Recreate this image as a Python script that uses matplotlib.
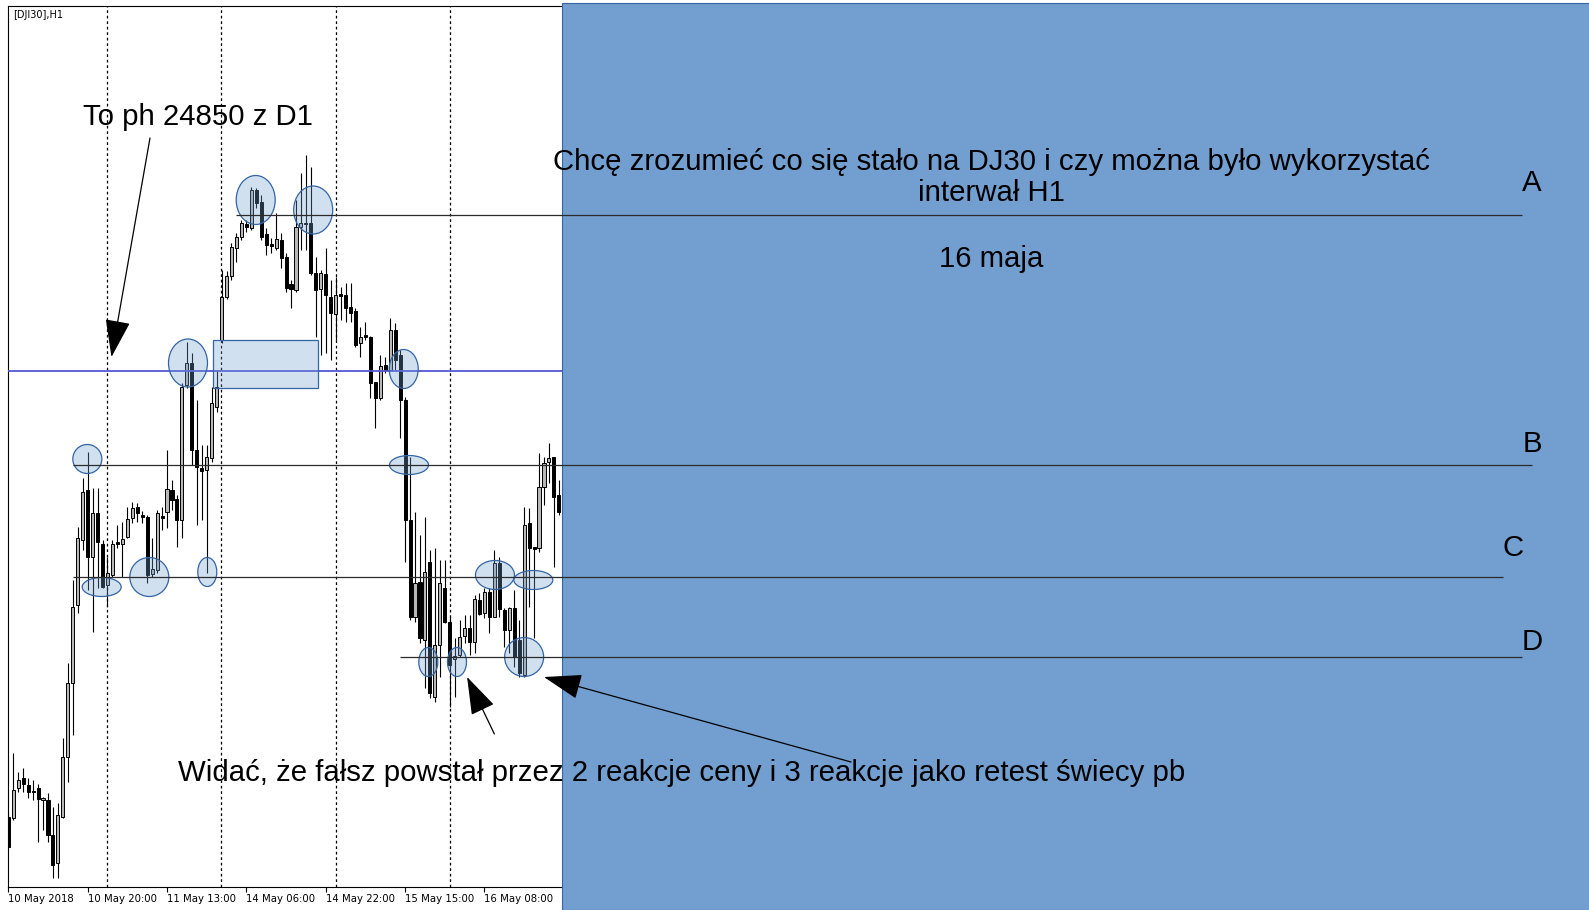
import numpy as np
import matplotlib
matplotlib.use("Agg")
import matplotlib.pyplot as plt
from matplotlib.patches import Ellipse, Rectangle

# DJI30 H1 candles, 10-16 May 2018
opens = [
    24404, 24403, 24433, 24443, 24436, 24430, 24433, 24421, 24421, 24386,
    24358, 24404, 24464, 24538, 24616, 24681, 24731, 24664, 24708, 24677,
    24636, 24646, 24679, 24677, 24684, 24703, 24714, 24706, 24704, 24647,
    24651, 24705, 24709, 24731, 24722, 24701, 24836, 24858, 24771, 24753,
    24751, 24763, 24814, 24881, 24924, 24945, 24973, 24984, 24997, 24993,
    25031, 25019, 24987, 24977, 24973, 24981, 24964, 24937, 24931, 24994,
    24998, 24998, 24948, 24932, 24947, 24924, 24907, 24927, 24926, 24914,
    24910, 24878, 24886, 24884, 24839, 24823, 24856, 24851, 24891, 24866,
    24821, 24701, 24604, 24639, 24581, 24659, 24524, 24576, 24633, 24599,
    24562, 24566, 24585, 24593, 24579, 24621, 24608, 24629, 24604, 24658,
    24611, 24591, 24613, 24581, 24546, 24698, 24674, 24673, 24734, 24759,
    24764, 24726]
highs = [
    24409, 24468, 24449, 24453, 24443, 24441, 24437, 24424, 24428, 24414,
    24418, 24483, 24558, 24641, 24694, 24743, 24769, 24733, 24733, 24681,
    24664, 24681, 24696, 24699, 24714, 24719, 24718, 24710, 24706, 24683,
    24711, 24714, 24771, 24741, 24726, 24838, 24879, 24868, 24821, 24776,
    24776, 24834, 24851, 24951, 24950, 24978, 24988, 25001, 25001, 25034,
    25033, 25026, 24993, 24983, 25008, 24988, 24968, 24941, 25021, 25048,
    25066, 25054, 24964, 24951, 24973, 24941, 24944, 24934, 24938, 24938,
    24913, 24894, 24899, 24885, 24839, 24866, 24864, 24903, 24898, 24871,
    24824, 24764, 24709, 24686, 24704, 24671, 24673, 24661, 24661, 24604,
    24583, 24601, 24606, 24606, 24626, 24628, 24633, 24633, 24671, 24664,
    24613, 24614, 24631, 24601, 24714, 24713, 24674, 24768, 24764, 24778,
    24764, 24741]
lows = [
    24371, 24401, 24429, 24429, 24423, 24421, 24379, 24391, 24379, 24343,
    24343, 24403, 24439, 24486, 24608, 24671, 24631, 24589, 24633, 24633,
    24614, 24644, 24673, 24644, 24683, 24698, 24699, 24698, 24638, 24644,
    24648, 24691, 24693, 24711, 24674, 24683, 24833, 24756, 24696, 24701,
    24648, 24759, 24809, 24878, 24922, 24941, 24959, 24981, 24989, 24991,
    25013, 24981, 24966, 24968, 24971, 24953, 24929, 24913, 24929, 24971,
    24971, 24946, 24884, 24866, 24868, 24861, 24881, 24901, 24899, 24899,
    24874, 24864, 24881, 24823, 24793, 24821, 24848, 24851, 24851, 24783,
    24659, 24601, 24599, 24578, 24533, 24523, 24519, 24544, 24598, 24514,
    24524, 24564, 24578, 24566, 24568, 24606, 24603, 24588, 24604, 24604,
    24574, 24568, 24554, 24544, 24544, 24614, 24583, 24669, 24716, 24738,
    24654, 24706]
closes = [
    24374, 24431, 24441, 24437, 24429, 24429, 24422, 24423, 24386, 24356,
    24406, 24464, 24538, 24614, 24683, 24729, 24664, 24708, 24679, 24634,
    24648, 24677, 24677, 24682, 24702, 24713, 24708, 24704, 24646, 24652,
    24708, 24703, 24732, 24721, 24701, 24834, 24858, 24771, 24754, 24750,
    24764, 24818, 24834, 24924, 24945, 24974, 24984, 24998, 24994, 25031,
    25018, 24984, 24976, 24975, 24982, 24963, 24933, 24932, 24994, 24998,
    24997, 24948, 24931, 24948, 24926, 24908, 24926, 24925, 24913, 24908,
    24876, 24884, 24884, 24838, 24823, 24855, 24851, 24891, 24861, 24821,
    24701, 24604, 24638, 24583, 24649, 24528, 24576, 24638, 24599, 24556,
    24565, 24584, 24593, 24579, 24622, 24607, 24629, 24604, 24658, 24612,
    24591, 24613, 24564, 24548, 24696, 24673, 24672, 24734, 24758, 24763,
    24724, 24709]

tick_bars = [0, 16, 32, 48, 64, 80, 96]
tick_labels = ["10 May 2018", "10 May 20:00", "11 May 13:00", "14 May 06:00",
               "14 May 22:00", "15 May 15:00", "16 May 08:00"]
grid_bars = [19.9, 42.9, 66.1, 89.1]

ph_price = 24850
level_names = ["A", "B", "C", "D"]
level_prices = [25006, 24756, 24644, 24564]

W, H = 1589, 910
BAR_PX = 4.96
FONT = "Liberation Sans"
FS = 21.2


def px(x, y):
    # screen pixel -> figure fraction
    return x / W, 1 - y / H


def draw_candles(ax):
    o = np.array(opens)
    h = np.array(highs)
    l = np.array(lows)
    c = np.array(closes)
    x = np.arange(len(o))
    up = c >= o
    ax.vlines(x, l, h, color="black", lw=0.8, zorder=2)
    ax.bar(x[up], np.maximum(c[up] - o[up], 1), bottom=o[up], width=0.62,
           facecolor="#b8b8b8", edgecolor="black", lw=0.7, zorder=3)
    ax.bar(x[~up], np.maximum(o[~up] - c[~up], 1), bottom=c[~up], width=0.62,
           facecolor="black", edgecolor="black", lw=0.7, zorder=3)


def main():
    fig = plt.figure(figsize=(W / 100, H / 100), dpi=100)
    ax = fig.add_axes([7.8 / W, 1 - 887 / H, (W - 7.8) / W, (887 - 5.7) / H])
    x_right = -0.1 + (W - 7.8) / BAR_PX
    ax.set_xlim(-0.1, x_right)
    ax.set_ylim(24334, 24334 + 881.3)
    n = len(opens)

    ax.vlines(grid_bars, 24334, 24334 + 881.3, colors="black", lw=0.9,
              linestyles=(0, (2.2, 2.2)), zorder=1)
    draw_candles(ax)
    ax.hlines(ph_price, -0.1, n - 0.3, color="#5656d8", lw=1.3, zorder=4)

    # marked reactions
    ellipses = [(15.93, 24762, 5.85, 29), (18.83, 24634, 7.86, 19),
                (28.43, 24644, 7.86, 39), (40.12, 24649, 3.83, 29),
                (36.23, 24858, 7.86, 48), (49.88, 25021, 7.86, 49),
                (61.47, 25011, 7.86, 48), (79.72, 24852, 5.85, 39),
                (80.79, 24756, 7.86, 19), (84.68, 24559, 3.83, 29),
                (90.46, 24559, 3.83, 29), (98.12, 24646, 7.86, 29),
                (105.85, 24641, 7.86, 19), (104.0, 24564, 7.86, 39)]
    for bx, by, bw, bh in ellipses:
        ax.add_patch(Ellipse((bx, by), bw, bh, facecolor=(0.447, 0.624, 0.812, 0.32),
                             edgecolor="#3465a4", lw=0.9, zorder=4.5))
    ax.add_patch(Rectangle((41.21, 24833), 21.3, 48,
                           facecolor=(0.447, 0.624, 0.812, 0.32),
                           edgecolor="#3465a4", lw=0.9, zorder=4.5))

    # blue panel over the right part of the screenshot
    ax.axvspan(n - 0.27, x_right, ymin=-23 / 881.3, ymax=1 + 2.7 / 881.3,
               facecolor="#729fcf", edgecolor="#3465a4", lw=0.8,
               zorder=5, clip_on=False)

    starts = [45.9, 13.05, 13.05, 78.97]
    ends = [305.2, 307.2, 301.4, 305.2]
    for price, x0, x1 in zip(level_prices, starts, ends):
        ax.hlines(price, x0, x1, color="#2b2b2b", lw=0.9, zorder=6)

    letter_pos = [(1532, 183), (1532, 444), (1513, 548), (1532, 642)]
    for name, (lx, ly) in zip(level_names, letter_pos):
        fig.text(*px(lx, ly), name, ha="center", va="center",
                 fontsize=FS, family=FONT, zorder=8)

    arrow = dict(arrowstyle="-|>,head_length=2.4,head_width=0.8",
                 mutation_scale=10, color="black", lw=0.9,
                 shrinkA=0, shrinkB=0)
    for tip, tail in [((20.8, 24864), (28.57, 25083)),
                      ((92.5, 24544), (98.0, 24487)),
                      ((108.0, 24544), (169.9, 24459))]:
        ax.annotate("", xy=tip, xytext=tail, arrowprops=arrow,
                    zorder=7, annotation_clip=False)

    fig.text(*px(83, 117), "To ph 24850 z D1", ha="left", va="center",
             fontsize=FS, family=FONT)
    fig.text(*px(991, 161.5),
             "Chcę zrozumieć co się stało na DJ30 i czy można było wykorzystać",
             ha="center", va="center", fontsize=FS, family=FONT)
    fig.text(*px(991, 193), "interwał H1", ha="center", va="center",
             fontsize=FS, family=FONT)
    fig.text(*px(991, 259), "16 maja", ha="center", va="center",
             fontsize=FS, family=FONT)
    fig.text(*px(178, 773),
             "Widać, że fałsz powstał przez 2 reakcje ceny i 3 reakcje jako retest świecy pb",
             ha="left", va="center", fontsize=FS, family=FONT)
    fig.text(*px(12.7, 15), "[DJI30],H1", ha="left", va="center", fontsize=7)

    ax.set_xticks(tick_bars)
    ax.set_xticklabels(tick_labels, ha="left", fontsize=7.3)
    ax.tick_params(axis="x", length=3.5, width=0.8, pad=1.5)
    ax.set_yticks([])
    ax.spines["right"].set_visible(False)
    for s in ["left", "top", "bottom"]:
        ax.spines[s].set_linewidth(0.8)

    fig.savefig("out.png", dpi=100)


if __name__ == "__main__":
    main()
